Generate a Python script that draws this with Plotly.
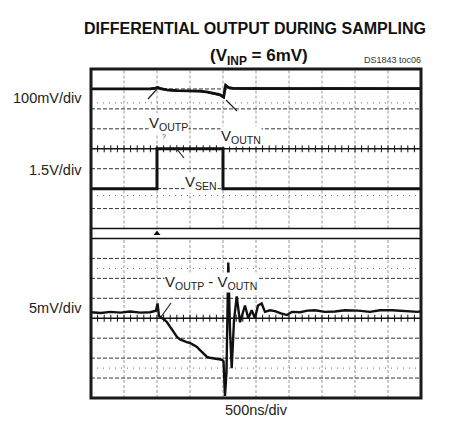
import numpy as np
import plotly.graph_objects as go

# ---------------- data ----------------
# time axis: 500 ns/div, 10 divisions
t_vout = [0, 300, 600, 900, 980, 1010, 1050, 1150, 1300, 1500, 1650, 1750, 1850, 1950, 2010,
          2040, 2080, 2150, 2400, 2700, 3000, 3300, 3600, 3900, 4200, 4500, 4800, 5000]
voutp_mv = [0, 1, -1, 1, 5, 8, 3, -5, -9, -10, -12, -16, -22, -30, -42,
            20, 8, 4, 3, 2, 3, 2, 3, 2, 2, 3, 2, 2]
voutn_mv = [0, 0, -1, 0, 4, 7, 2, -5, -8, -9, -11, -15, -21, -28, -40,
            18, 7, 3, 2, 2, 2, 2, 2, 2, 2, 2, 2, 2]

t_sen = [0, 1000, 1000, 2000, 2000, 5000]
vsen_v = [0, 0, 3, 3, 0, 0]

t_diff = [0, 150, 290, 450, 590, 750, 894, 985, 1008, 1030, 1061, 1110, 1152, 1190, 1227, 1265,
          1303, 1350, 1394, 1450, 1500, 1550, 1606, 1640, 1682, 1720, 1758, 1800, 1848, 1920,
          1985, 2008, 2030, 2053, 2080, 2106, 2132, 2167, 2208, 2258, 2333, 2383, 2435,
          2485, 2530, 2586, 2636, 2712, 2788, 2879, 2970, 3045, 3167, 3280, 3394, 3545,
          3697, 3848, 4045, 4227, 4379, 4561, 4758, 4955, 5000]
diff_mv = [1.5, 1.3, 1.6, 1.4, 1.7, 1.4, 1.5, 1.9, 3.7, 0.6, 0.2, -0.3, -1.0, -2.0, -3.0, -3.9,
           -4.7, -5.3, -5.7, -6.0, -6.2, -6.6, -7.2, -7.8, -8.5, -9.2, -9.7, -9.9, -10.0, -10.1,
           -10.4, -10.8, -19.5, -13.5, 14.0, -3.0, -12.5, -0.5, 5.5, -1.0, 3.2, 0.0, 2.0,
           0.0, 3.2, 3.7, 1.6, 2.0, 1.8, 1.2, 0.8, 1.6, 1.5, 1.9, 2.0, 1.6,
           1.7, 2.0, 1.9, 1.6, 2.0, 2.0, 1.8, 1.6, 1.8]

# channel settings (scale per division, reference position in divisions)
VOUT_SCALE, VOUT_REF = 100.0, 15.5   # 100mV/div
SEN_SCALE, SEN_REF = 1.5, 10.5       # 1.5V/div
DIFF_SCALE, DIFF_REF = 5.0, 4.0      # 5mV/div

def to_div(vals, scale, ref):
    return [ref + v / scale for v in vals]

# ---------------- figure ----------------
L, R, T, B = 91, 29, 69, 38
W, H = 450, 436
pw, ph = W - L - R, H - T - B

def px(x):
    return (x - L) / pw

def py(y):
    return (H - B - y) / ph

fig = go.Figure()

shapes = []
grid_col = "#9a9a9a"
# vertical grid (upper and lower screens)
for k in range(1, 10):
    for y0, y1 in [(0, 8), (8.5, 16.5)]:
        shapes.append(dict(type="line", xref="x", yref="y", x0=k * 500, x1=k * 500, y0=y0, y1=y1,
                           line=dict(color=grid_col, width=1, dash="3px,2px"), layer="below"))
# horizontal dashed grid
for yv in [9.5, 10.5, 11.5, 13.5, 14.5, 15.5, 1, 2, 3, 5, 6, 7]:
    shapes.append(dict(type="line", xref="x", yref="y", x0=0, x1=5000, y0=yv, y1=yv,
                       line=dict(color="#333333", width=1, dash="4px,2px"), layer="below"))
# dotted half-division lines
for yv in [14.8, 10.15, 6.5, 1.5]:
    shapes.append(dict(type="line", xref="x", yref="y", x0=0, x1=5000, y0=yv, y1=yv,
                       line=dict(color="#666666", width=1, dash="1px,5px"), layer="below"))
# solid center lines and band lines
for yv in [12.5, 4.0, 8.0, 8.5]:
    shapes.append(dict(type="line", xref="x", yref="y", x0=0, x1=5000, y0=yv, y1=yv,
                       line=dict(color="#111111", width=1.5), layer="below"))
# frame
shapes.append(dict(type="rect", xref="paper", yref="paper", x0=0, x1=1, y0=0, y1=1,
                   line=dict(color="#1a1a1a", width=3)))

# tick marks on center lines
ticks = np.arange(0, 5001, 100)
for yc in [12.5, 4.0]:
    fig.add_trace(go.Scatter(x=ticks, y=[yc] * len(ticks), mode="markers",
                             marker=dict(symbol="line-ns", size=5, line=dict(width=1, color="#111111")),
                             hoverinfo="skip", showlegend=False))

# traces
fig.add_trace(go.Scatter(x=t_vout, y=to_div(voutn_mv, VOUT_SCALE, VOUT_REF), mode="lines",
                         line=dict(color="#111111", width=2.8), name="VOUTN", showlegend=False))
fig.add_trace(go.Scatter(x=t_vout, y=to_div(voutp_mv, VOUT_SCALE, VOUT_REF), mode="lines",
                         line=dict(color="#111111", width=2), name="VOUTP", showlegend=False))
fig.add_trace(go.Scatter(x=t_sen, y=to_div(vsen_v, SEN_SCALE, SEN_REF), mode="lines",
                         line=dict(color="#111111", width=3), name="VSEN", showlegend=False))
fig.add_trace(go.Scatter(x=t_diff, y=to_div(diff_mv, DIFF_SCALE, DIFF_REF), mode="lines",
                         line=dict(color="#111111", width=2.4), name="VOUTP-VOUTN", showlegend=False))

# trigger marker
fig.add_trace(go.Scatter(x=[1000], y=[8.25], mode="markers",
                         marker=dict(symbol="triangle-up", size=6, color="#111111"),
                         hoverinfo="skip", showlegend=False))

NF = "Liberation Sans, Arial, sans-serif"
ann = []
# title
ann.append(dict(text="<b>DIFFERENTIAL OUTPUT DURING SAMPLING</b>", xref="paper", yref="paper",
                x=px(255), y=py(18), showarrow=False, font=dict(family=NF, size=16, color="#111111")))
ann.append(dict(text="<b>(V<sub>INP</sub> = 6mV)</b>", xref="paper", yref="paper",
                x=px(259), y=py(44), showarrow=False, font=dict(family=NF, size=17, color="#111111")))
ann.append(dict(text="DS1843 toc06", xref="paper", yref="paper", x=px(422), y=py(66),
                xanchor="right", yanchor="bottom", borderpad=0,
                showarrow=False, font=dict(family=NF, size=9, color="#333333")))
# channel scale labels
for txt, yy in [("100mV/div", 88), ("1.5V/div", 160), ("5mV/div", 318)]:
    ann.append(dict(text=txt, xref="paper", yref="paper", x=px(84), y=py(yy), xanchor="right",
                    showarrow=False, font=dict(family=NF, size=14.5, color="#222222")))
ann.append(dict(text="500ns/div", xref="paper", yref="paper", x=px(256), y=py(420),
                showarrow=False, font=dict(family=NF, size=14.5, color="#222222")))
# trace labels (with white background to hide grid like the original)
lab_font = dict(family=NF, size=15, color="#222222")
ann.append(dict(text="V<sub>OUTP</sub>", xref="paper", yref="paper", x=px(148), y=py(113),
                showarrow=False, font=lab_font, bgcolor="white", borderpad=0))
ann.append(dict(text="V<sub>OUTN</sub>", xref="paper", yref="paper", x=px(241), y=py(126),
                showarrow=False, font=lab_font, bgcolor="white", borderpad=0))
ann.append(dict(text="V<sub>SEN</sub>", xref="paper", yref="paper", x=px(184), y=py(172),
                showarrow=False, font=lab_font, bgcolor="white", borderpad=0))
ann.append(dict(text="V<sub>OUTP</sub> - V<sub>OUTN</sub>", xref="paper", yref="paper", x=px(164), y=py(293),
                showarrow=False, font=lab_font, bgcolor="white", borderpad=0))
ann.append(dict(text="?", xref="paper", yref="paper", x=px(160), y=py(131),
                showarrow=False, font=dict(family=NF, size=7, color="#333333")))

# leader lines
for (xa, ya, xb, yb) in [(148, 99, 157, 89), (237, 111, 226, 100), (176, 148, 184, 158), (161, 317, 171, 303)]:
    shapes.append(dict(type="line", xref="paper", yref="paper", x0=px(xa), y0=py(ya), x1=px(xb), y1=py(yb),
                       line=dict(color="#222222", width=1.2)))

fig.update_layout(
    width=W, height=H, margin=dict(l=L, r=R, t=T, b=B),
    plot_bgcolor="white", paper_bgcolor="white",
    shapes=shapes, annotations=ann,
    xaxis=dict(range=[0, 5000], showgrid=False, zeroline=False, showticklabels=False, ticks=""),
    yaxis=dict(range=[0, 16.5], showgrid=False, zeroline=False, showticklabels=False, ticks=""),
)

fig.write_html("out.html", config={"displayModeBar": False},
               post_script="document.body.style.margin='0px';document.body.style.overflow='hidden';")
